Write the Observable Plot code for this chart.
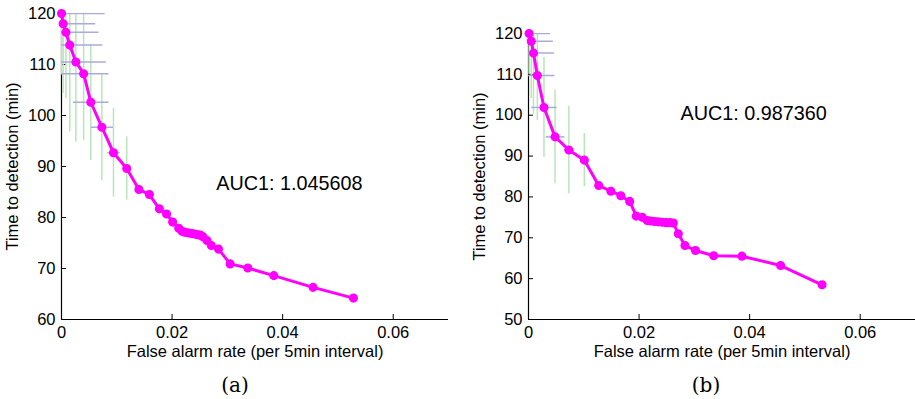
<!DOCTYPE html>
<html>
<head>
<meta charset="utf-8">
<script src="https://cdn.jsdelivr.net/npm/d3@7"></script>
<script src="https://cdn.jsdelivr.net/npm/@observablehq/plot@0.6"></script>
<style>
  html, body { margin: 0; padding: 0; background: #fff; }
  #wrap { position: relative; width: 915px; height: 399px; overflow: hidden; font-family: "Liberation Sans", Arial, sans-serif; }
  .panel { position: absolute; top: 0; }
  .panel svg { overflow: visible; }
  .cap { position: absolute; top: 373px; font-family: "DejaVu Serif", "Liberation Serif", serif; font-size: 20px; transform: translateX(-50%); }
</style>
</head>
<body>
<div id="wrap">
  <div class="panel" id="pa" style="left:0px"></div>
  <div class="panel" id="pb" style="left:467px"></div>
  <div class="cap" style="left:235px">(a)</div>
  <div class="cap" style="left:706px">(b)</div>
</div>
<script>
// ---------- data ----------
const xTicks = [0, 0.02, 0.04, 0.06];
const xTickLabels = ["0", "0.02", "0.04", "0.06"];
const yTicksA = [60, 70, 80, 90, 100, 110, 120];
const yTicksB = [50, 60, 70, 80, 90, 100, 110, 120];
const xDomain = [0, 0.07];
const yDomainA = [60, 120];
const yDomainB = [50, 120];
const xLabel = "False alarm rate (per 5min interval)";
const yLabel = "Time to detection (min)";
const aucTextA = "AUC1: 1.045608";
const aucTextB = "AUC1: 0.987360";

// panel (a)
const farA = [0, 0.0003, 0.0008, 0.0015, 0.0026, 0.0040, 0.0053, 0.0073, 0.0094, 0.0118, 0.0140, 0.0159, 0.0177, 0.0190, 0.0201, 0.0212, 0.0218, 0.0223, 0.0228, 0.0233, 0.0238, 0.0243, 0.0248, 0.0252, 0.0256, 0.0263, 0.0271, 0.0284, 0.0305, 0.0337, 0.0384, 0.0455, 0.0528];
const ttdA = [120, 118.0, 116.3, 113.8, 110.5, 108.2, 102.6, 97.7, 92.7, 89.6, 85.5, 84.5, 81.7, 80.7, 79.1, 77.9, 77.3, 77.1, 77.0, 76.9, 76.8, 76.7, 76.6, 76.5, 76.2, 75.5, 74.5, 73.8, 70.9, 70.1, 68.6, 66.3, 64.2];
const farErrA = [0.0078, 0.0058, 0.0059, 0.0059, 0.0054, 0.0045, 0.0032, 0.0020, 0.0011, 0];
const ttdErrA = [12, 13.7, 13, 17, 15.7, 13.1, 11.4, 10.5, 8.7, 6.2];

// panel (b)
const farB = [0.0001, 0.0005, 0.0009, 0.0016, 0.0028, 0.0048, 0.0073, 0.0101, 0.0127, 0.0149, 0.0167, 0.0183, 0.0195, 0.0206, 0.0215, 0.0221, 0.0228, 0.0235, 0.0242, 0.0249, 0.0256, 0.0262, 0.0271, 0.0283, 0.0302, 0.0335, 0.0386, 0.0456, 0.0531];
const ttdB = [120, 118.1, 115.2, 109.7, 101.9, 94.7, 91.5, 89.0, 82.8, 81.4, 80.3, 78.9, 75.3, 75.0, 74.2, 74.1, 74.0, 73.9, 73.8, 73.7, 73.7, 73.6, 71.0, 68.1, 66.9, 65.6, 65.5, 63.2, 58.5];
const farErrB = [0.0038, 0.0039, 0.0037, 0.0031, 0.0023, 0.0017, 0.0009, 0];
const ttdErrB = [10, 14, 15, 11, 12.2, 11.5, 10.7, 6.5];

// ---------- drawing ----------
const MAGENTA = "#ff00ff";
const GREEN = "#b9e6b9";
const BLUE = "#aaaadd";
const FS = 16.5;

function panel({far, ttd, farErr, ttdErr, yDomain, yTicks, marginTop, auc, aucX, aucY, width, marginRight}) {
  const pts = far.map((x, i) => ({x, y: ttd[i]}));
  const errs = farErr.map((xe, i) => ({x: far[i], y: ttd[i], xe, ye: ttdErr[i]}));
  return Plot.plot({
    width, height: 365,
    marginLeft: 61, marginRight, marginTop, marginBottom: 46,
    style: {fontFamily: "'Liberation Sans', Arial, sans-serif", fontSize: FS + "px", color: "#000", background: "transparent", overflow: "visible"},
    x: {domain: xDomain},
    y: {domain: yDomain},
    marks: [
      Plot.ruleY([yDomain[0]], {stroke: "#000", strokeWidth: 1.2}),
      Plot.ruleX([xDomain[0]], {stroke: "#000", strokeWidth: 1.2}),
      Plot.axisX(xTicks, {tickSize: -5, tickPadding: 12, tickFormat: (d, i) => xTickLabels[i], label: xLabel, labelAnchor: "center", labelArrow: "none", labelOffset: 37, fontSize: FS}),
      Plot.axisY(yTicks, {tickSize: -5, tickPadding: 11, label: yLabel, labelAnchor: "center", labelArrow: "none", labelOffset: 55, fontSize: FS}),
      Plot.ruleX(errs, {x: "x", y1: d => d.y - d.ye, y2: d => d.y + d.ye, stroke: GREEN, strokeWidth: 1.5, clip: true}),
      Plot.link(errs.filter(d => d.xe > 0), {x1: d => d.x - d.xe, x2: d => d.x + d.xe, y1: "y", y2: "y", stroke: BLUE, strokeWidth: 1.5, clip: true}),
      Plot.line(pts, {x: "x", y: "y", stroke: MAGENTA, strokeWidth: 3}),
      Plot.dot(pts, {x: "x", y: "y", r: 3.8, fill: MAGENTA, stroke: MAGENTA}),
      Plot.text([auc], {x: aucX, y: aucY, text: d => d, textAnchor: "start", fontSize: 19.8})
    ]
  });
}

document.getElementById("pa").appendChild(panel({
  far: farA, ttd: ttdA, farErr: farErrA, ttdErr: ttdErrA, yDomain: yDomainA, yTicks: yTicksA,
  marginTop: 13, auc: aucTextA, aucX: 0.028, aucY: 86.7, width: 460, marginRight: 12
}));
document.getElementById("pb").appendChild(panel({
  far: farB, ttd: ttdB, farErr: farErrB, ttdErr: ttdErrB, yDomain: yDomainB, yTicks: yTicksB,
  marginTop: 33, auc: aucTextB, aucX: 0.0275, aucY: 100.4, width: 448, marginRight: 0
}));
</script>
</body>
</html>
